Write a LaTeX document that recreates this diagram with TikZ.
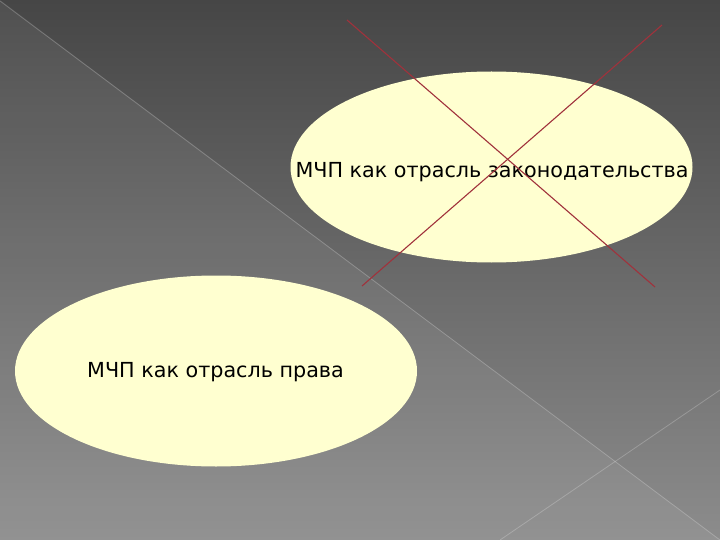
\documentclass[tikz,border=0pt]{standalone}
\usepackage{fontspec}
\setmainfont{DejaVu Sans}
\usetikzlibrary{shapes.geometric}
\definecolor{bgtop}{RGB}{70,70,70}
\definecolor{bgbot}{RGB}{140,140,140}
\definecolor{bubble}{RGB}{255,255,208}
\definecolor{crossred}{RGB}{160,50,60}
\tikzset{
  bubblebox/.style={ellipse, fill=bubble, inner sep=0pt, minimum width=402pt, minimum height=191pt},
  bubbletext/.style={inner sep=0pt, font=\fontsize{20.7}{24}\selectfont, text=black},
  guide/.style={draw=white, draw opacity=0.22, line width=0.8pt},
  crossline/.style={draw=crossred, line width=1.1pt}
}
\begin{document}
\begin{tikzpicture}[x=1pt,y=-1pt]
\useasboundingbox (0,0) rectangle (720,540);
\shade[top color=bgtop, bottom color=bgbot] (0,0) rectangle (720,540);
\fill[white, opacity=0.06] (0,0) -- (720,540) -- (0,540) -- cycle;
\coordinate (g1a) at (0,1);
\coordinate (g1b) at (720,540);
\coordinate (g2a) at (720,390);
\coordinate (g2b) at (500,540);
\draw[guide] (g1a) -- (g1b);
\draw[guide] (g2a) -- (g2b);
\node[bubblebox] (zak) at (491.5,167) {};
\node[bubbletext] (zaktext) at (492,172) {МЧП как отрасль законодательства};
\node[bubblebox] (prava) at (216,371) {};
\node[bubbletext] (pravatext) at (215.5,372.5) {МЧП как отрасль права};
\coordinate (x1a) at (347,20);
\coordinate (x1b) at (655,287);
\coordinate (x2a) at (662,25);
\coordinate (x2b) at (362,286);
\draw[crossline] (x1a) -- (x1b);
\draw[crossline] (x2a) -- (x2b);
\end{tikzpicture}
\end{document}
